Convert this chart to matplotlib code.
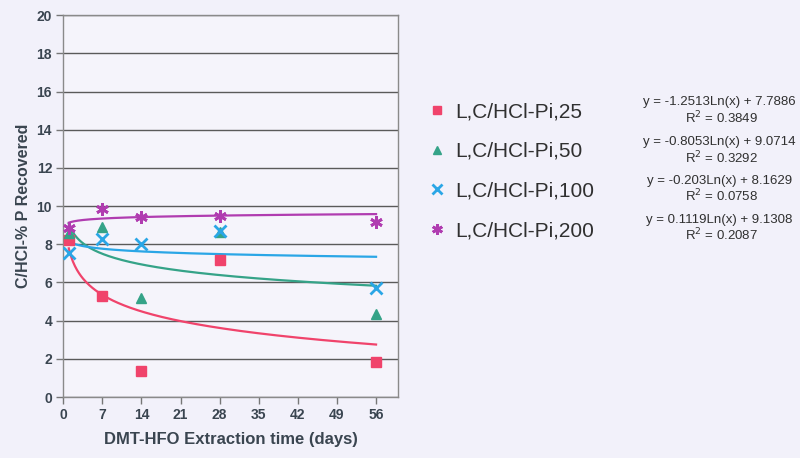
import numpy as np
import matplotlib
matplotlib.use("Agg")
import matplotlib.pyplot as plt

plt.rcParams['font.family'] = ['Liberation Sans', 'DejaVu Sans']

# Extraction times (days) and recovered percentages per series
days = [1, 7, 14, 28, 56]
series_names = ["L,C/HCl-Pi,25", "L,C/HCl-Pi,50", "L,C/HCl-Pi,100", "L,C/HCl-Pi,200"]
pi_25 = [8.2, 5.3, 1.35, 7.2, 1.85]
pi_50 = [8.6, 8.9, 5.2, 8.65, 4.35]
pi_100 = [7.55, 8.3, 8.0, 8.7, 5.7]
pi_200 = [8.85, 9.85, 9.45, 9.5, 9.15]

# Logarithmic trendline coefficients: y = a*ln(x) + b, with R^2
trend_a = [-1.2513, -0.8053, -0.203, 0.1119]
trend_b = [7.7886, 9.0714, 8.1629, 9.1308]
trend_r2 = [0.3849, 0.3292, 0.0758, 0.2087]
trend_labels = ["y = -1.2513Ln(x) + 7.7886", "y = -0.8053Ln(x) + 9.0714",
                "y = -0.203Ln(x) + 8.1629", "y = 0.1119Ln(x) + 9.1308"]

x_ticks = [0, 7, 14, 21, 28, 35, 42, 49, 56]
y_ticks = [0, 2, 4, 6, 8, 10, 12, 14, 16, 18, 20]

colors = ["#f0436b", "#35a388", "#2aa6e6", "#b03cb0"]
star = (6, 2, 0)
markers = ["s", "^", "x", star]
msizes = [7, 7, 8, 9]

bg = "#f2f1fa"
text_col = "#3a4550"
fig = plt.figure(figsize=(8, 4.58), dpi=100, facecolor=bg)
ax = fig.add_axes([0.079, 0.133, 0.419, 0.834])
ax.set_facecolor("#f5f4fb")

values = [pi_25, pi_50, pi_100, pi_200]
xs = np.linspace(1, 56, 300)
handles = []
for a, b, c in zip(trend_a, trend_b, colors):
    ax.plot(xs, a * np.log(xs) + b, color=c, lw=1.6, zorder=3)
for vals, c, m, ms, name in zip(values, colors, markers, msizes, series_names):
    h, = ax.plot(days, vals, linestyle="none", marker=m, color=c, ms=ms,
                 mew=2.0 if m in ("x", star) else 1, zorder=4, label=name)
    handles.append(h)

ax.set_xlim(0, 60)
ax.set_ylim(0, 20)
ax.set_xticks(x_ticks)
ax.set_yticks(y_ticks)
ax.yaxis.grid(True, color="#5a5a5a", lw=1.0)
ax.set_axisbelow(True)
for s in ax.spines.values():
    s.set_color("#8a8a8a")
    s.set_linewidth(1.0)
ax.tick_params(axis="both", colors="#777777", labelcolor=text_col,
               labelsize=10, length=5, width=1, direction="out", pad=3)
for lab in ax.get_xticklabels() + ax.get_yticklabels():
    lab.set_fontweight("bold")

ax.set_xlabel("DMT-HFO Extraction time (days)", fontsize=12, fontweight="bold",
              color=text_col, labelpad=7)
ax.set_ylabel("C/HCl-% P Recovered", fontsize=11.5, fontweight="bold",
              color=text_col, labelpad=4)

leg = fig.legend(handles=handles, loc="upper left", bbox_to_anchor=(0.507, 0.818),
                 frameon=False, fontsize=15, labelspacing=1.0, handletextpad=0.3,
                 handlelength=1.2, labelcolor="#303030", markerscale=0.85)

ys_eq = [0.777, 0.690, 0.605, 0.520]
for y, lbl, r2 in zip(ys_eq, trend_labels, trend_r2):
    fig.text(0.899, y, lbl, ha="center", va="center", fontsize=9.5, color="#303030")
    fig.text(0.902, y - 0.034, "R$^2$ = %.4f" % r2, ha="center", va="center",
             fontsize=9.5, color="#303030")

fig.savefig("out.png", dpi=100, facecolor=bg)
